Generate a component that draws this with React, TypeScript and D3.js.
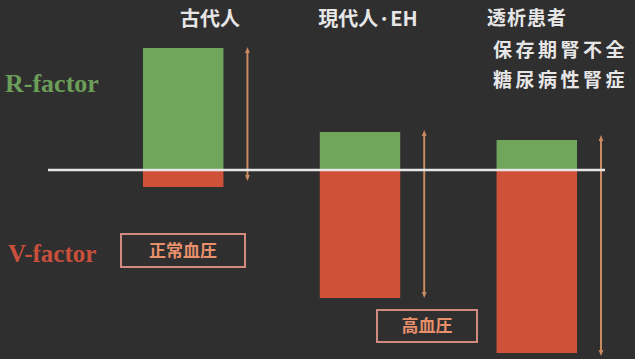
import React from "react";
import * as d3 from "d3";

const categories = ["古代人", "現代人·EH", "透析患者"];
const subLabels = ["保存期腎不全", "糖尿病性腎症"];
const rFactor = [122, 38, 30];
const vFactor = [17, 128, 183];
const arrowTop = [120, 37, 32];
const arrowBottom = [-8, -125, -183];
const bpLabels = ["正常血圧", "高血圧"];

const W = 635;
const H = 359;
const BG = "#302f30";
const GREEN = "#6fa65b";
const RED = "#cf5238";
const ARROW = "#c98a62";
const BOX = "#d08a80";
const BOXTEXT = "#e8906c";

export default function App() {
  const x = d3.scaleBand().domain(categories).range([143, 577]).paddingInner(0.545).paddingOuter(0);
  const y = d3.scaleLinear().domain([-183, 122]).range([353, 48]);
  const bw = x.bandwidth();
  const y0 = y(0);
  const serif = "'Liberation Serif', 'DejaVu Serif', serif";
  const cjk = "'Noto Sans CJK JP', sans-serif";
  const arrowX = categories.map((c) => (x(c) as number) + bw + 24);

  return (
    <div style={{ position: "absolute", left: 0, top: 0 }}>
      <svg width={W} height={H} style={{ display: "block" }}>
        <defs>
          <marker id="ah" viewBox="0 0 10 10" refX="5" refY="5" markerWidth="3" markerHeight="3" orient="auto-start-reverse">
            <path d="M0,1 L10,5 L0,9 z" fill={ARROW} />
          </marker>
        </defs>
        <rect width={W} height={H} fill={BG} />
        {categories.map((c, i) => (
          <g key={c}>
            <rect x={x(c)} y={y(rFactor[i])} width={bw} height={y0 - y(rFactor[i])} fill={GREEN} />
            <rect x={x(c)} y={y0} width={bw} height={y(-vFactor[i]) - y0} fill={RED} />
            <line
              x1={arrowX[i]}
              x2={arrowX[i]}
              y1={y(arrowTop[i])}
              y2={y(arrowBottom[i])}
              stroke={ARROW}
              strokeWidth={2}
              markerStart="url(#ah)"
              markerEnd="url(#ah)"
            />
          </g>
        ))}
        <line x1={48} x2={605} y1={y0} y2={y0} stroke="#e6e6e6" strokeWidth={2.5} />

        <text x={210} y={26} textAnchor="middle" fill="#e6e6e6" fontFamily={cjk} fontWeight="bold" fontSize={20}>
          {categories[0]}
        </text>
        <text x={368} y={26} textAnchor="middle" fill="#e6e6e6" fontFamily={cjk} fontWeight="bold" fontSize={20}>
          {categories[1]}
        </text>
        <text x={487} y={25} fill="#e6e6e6" fontFamily={cjk} fontWeight="bold" fontSize={19} letterSpacing={1}>
          {categories[2]}
        </text>
        {subLabels.map((s, i) => (
          <text key={s} x={493} y={57 + i * 30} fill="#e6e6e6" fontFamily={cjk} fontWeight="bold" fontSize={19} letterSpacing={3.5}>
            {s}
          </text>
        ))}

        <text x={5} y={92} fill="#6b9e58" fontFamily={serif} fontWeight="bold" fontSize={26}>
          R-factor
        </text>
        <text x={8} y={262} fill="#c8503c" fontFamily={serif} fontWeight="bold" fontSize={25}>
          V-factor
        </text>

        <rect x={121} y={234} width={124} height={33} fill="none" stroke={BOX} strokeWidth={2} />
        <text x={183} y={257} textAnchor="middle" fill={BOXTEXT} fontFamily={cjk} fontWeight="bold" fontSize={17}>
          {bpLabels[0]}
        </text>
        <rect x={377} y={310} width={100} height={32} fill="none" stroke={BOX} strokeWidth={2} />
        <text x={427} y={332} textAnchor="middle" fill={BOXTEXT} fontFamily={cjk} fontWeight="bold" fontSize={17}>
          {bpLabels[1]}
        </text>
      </svg>
    </div>
  );
}
